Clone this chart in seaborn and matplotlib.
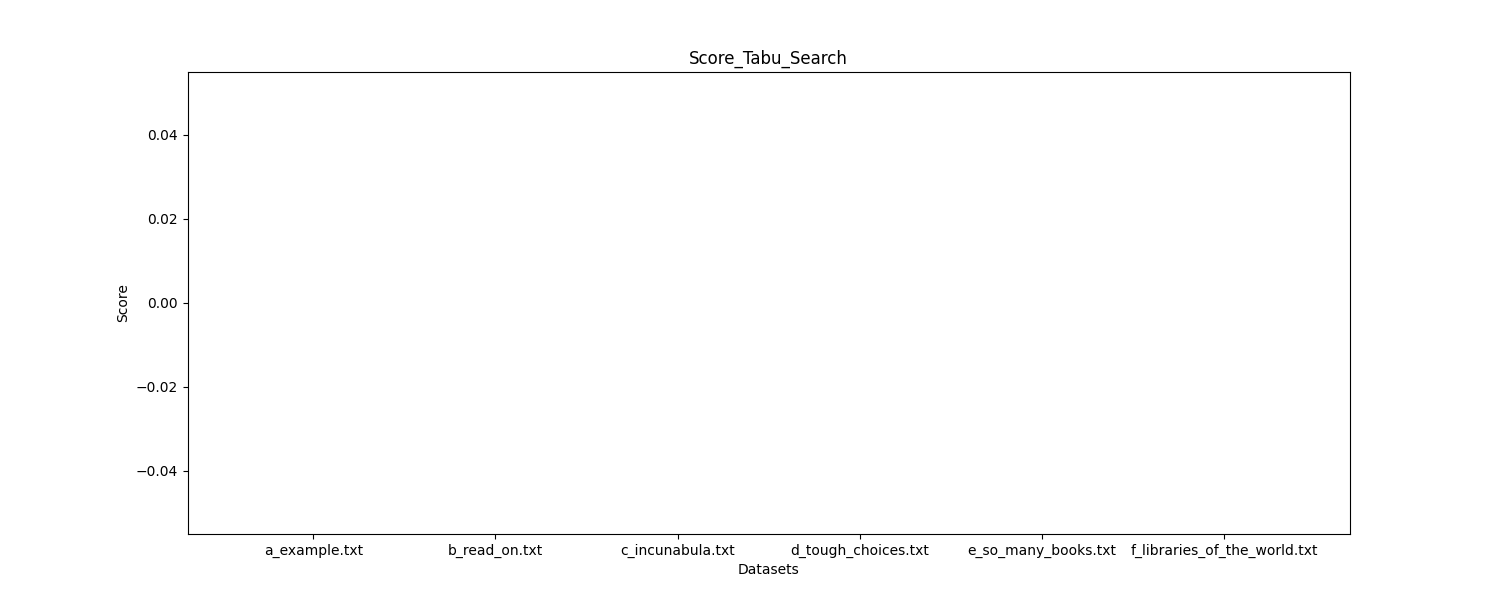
import matplotlib
matplotlib.use("Agg")
import pandas as pd
import matplotlib.pyplot as plt
import seaborn as sns

# Datasets and their tabu search scores (all zero in the reference)
DATASETS = [
    "a_example.txt",
    "b_read_on.txt",
    "c_incunabula.txt",
    "d_tough_choices.txt",
    "e_so_many_books.txt",
    "f_libraries_of_the_world.txt",
]
SCORES = [0, 0, 0, 0, 0, 0]


def main():
    data = pd.DataFrame({"Datasets": DATASETS, "Score": SCORES})

    fig, ax = plt.subplots(figsize=(15, 6), dpi=100)
    sns.barplot(data=data, x="Datasets", y="Score", ax=ax)

    # go back to plain matplotlib autoscaling for the category axis
    ax.set_autoscalex_on(True)
    ax.set_autoscaley_on(True)
    ax.relim()
    ax.autoscale_view()

    ax.set_title("Score_Tabu_Search")
    ax.set_xlabel("Datasets")
    ax.set_ylabel("Score")
    fig.savefig("out.png")


if __name__ == "__main__":
    main()
